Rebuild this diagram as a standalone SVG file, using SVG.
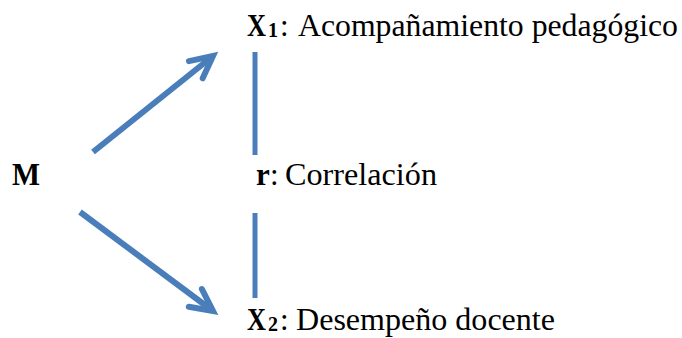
<svg xmlns="http://www.w3.org/2000/svg" width="682" height="338" viewBox="0 0 682 338">
<style>
text{font-family:'Liberation Serif','Times New Roman',serif;font-size:31px;fill:#000}
.b{font-weight:bold}
.s{font-size:20px}
.c{stroke:#4A7EBB;stroke-width:6;fill:none}
.v{stroke-width:5}
</style>
<defs>
<marker id="ah" markerUnits="userSpaceOnUse" viewBox="-30 -16 34 32" refX="0" refY="0" markerWidth="34" markerHeight="32" orient="auto" overflow="visible">
<path d="M-22,-11 L0,0 L-22,11" fill="none" stroke="#4A7EBB" stroke-width="6" stroke-linecap="round" stroke-linejoin="miter"/>
</marker>
</defs>
<rect width="682" height="338" fill="#fff"/>
<g id="connectors">
<line class="c" x1="93" y1="152" x2="213" y2="56" marker-end="url(#ah)"/>
<line class="c" x1="80" y1="212" x2="213" y2="311" marker-end="url(#ah)"/>
<line class="c v" x1="255" y1="52" x2="255" y2="155"/>
<line class="c v" x1="255" y1="213" x2="255" y2="298"/>
</g>
<g id="M"><text class="b" x="12" y="185" textLength="28" lengthAdjust="spacingAndGlyphs">M</text></g>
<g id="X1"><text y="36"><tspan class="b" x="247" textLength="19" lengthAdjust="spacingAndGlyphs">X</tspan><tspan class="b s" x="268" dy="1">1</tspan><tspan x="280" dy="-1">:</tspan><tspan x="298" textLength="380" lengthAdjust="spacingAndGlyphs">Acompañamiento pedagógico</tspan></text></g>
<g id="r"><text y="185"><tspan class="b" x="256">r</tspan><tspan x="270">:</tspan><tspan x="285" textLength="152" lengthAdjust="spacingAndGlyphs">Correlación</tspan></text></g>
<g id="X2"><text y="330"><tspan class="b" x="247" textLength="19" lengthAdjust="spacingAndGlyphs">X</tspan><tspan class="b s" x="268" dy="1">2</tspan><tspan x="280" dy="-1">:</tspan><tspan x="296" textLength="259" lengthAdjust="spacingAndGlyphs">Desempeño docente</tspan></text></g>
</svg>
